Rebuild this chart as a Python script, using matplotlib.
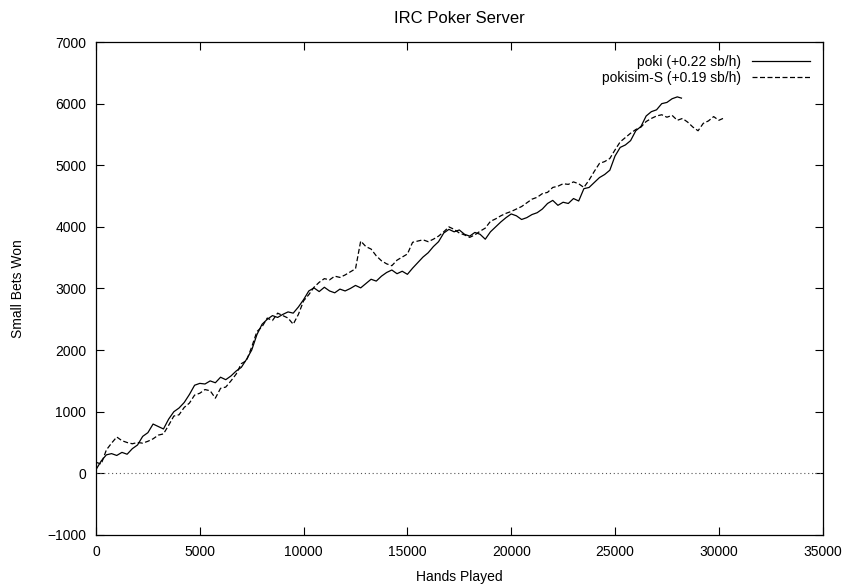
import matplotlib
matplotlib.use("Agg")
import matplotlib.pyplot as plt

plt.rcParams["font.family"] = ["Liberation Sans", "DejaVu Sans"]
plt.rcParams["font.size"] = 10

# poki (solid line), hands played vs small bets won
poki_hands = list(range(0, 28001, 250)) + [28200]
poki_won = [
    60, 200, 300, 320, 290, 340, 310, 400, 460, 600, 660, 800, 760, 720, 880, 1000,
    1060, 1150, 1280, 1430, 1460, 1450, 1500, 1470, 1560, 1520, 1580, 1660, 1720, 1850,
    2000, 2250, 2420, 2500, 2560, 2530, 2580, 2620, 2600, 2700, 2820, 2960, 3010, 2950,
    3020, 2960, 2930, 2990, 2960, 3000, 3050, 3010, 3080, 3150, 3120, 3200, 3260, 3300,
    3240, 3280, 3230, 3330, 3420, 3510, 3580, 3680, 3760, 3900, 3960, 3920, 3950, 3880,
    3850, 3910, 3880, 3800, 3920, 4000, 4080, 4150, 4210, 4180, 4120, 4150, 4200, 4230,
    4290, 4380, 4430, 4350, 4400, 4380, 4460, 4420, 4620, 4640, 4720, 4800, 4850, 4920,
    5150, 5290, 5330, 5400, 5560, 5630, 5800, 5870, 5900, 6000, 6020, 6080, 6110, 6090,
]

# pokisim-S (dashed line)
sim_hands = list(range(0, 30001, 250)) + [30200]
sim_won = [
    180, 150, 380, 490, 590, 530, 500, 480, 500, 490, 520, 560, 620, 640, 780, 930,
    950, 1070, 1140, 1270, 1300, 1360, 1340, 1220, 1380, 1400, 1500, 1610, 1780, 1830,
    2050, 2300, 2380, 2520, 2480, 2600, 2560, 2520, 2420, 2580, 2800, 2900, 3020, 3100,
    3160, 3140, 3200, 3180, 3220, 3270, 3320, 3770, 3680, 3640, 3530, 3450, 3400, 3370,
    3460, 3510, 3560, 3750, 3770, 3790, 3760, 3800, 3850, 3920, 4000, 3960, 3900, 3870,
    3830, 3870, 3930, 3980, 4090, 4130, 4180, 4220, 4250, 4290, 4330, 4390, 4450, 4480,
    4540, 4560, 4640, 4660, 4700, 4690, 4730, 4700, 4640, 4760, 4900, 5030, 5060, 5110,
    5250, 5380, 5450, 5520, 5580, 5620, 5710, 5760, 5800, 5820, 5780, 5810, 5730, 5760,
    5700, 5620, 5560, 5680, 5720, 5790, 5730, 5760,
]

labels = ["poki (+0.22 sb/h)", "pokisim-S (+0.19 sb/h)"]
xticks = list(range(0, 35001, 5000))
yticks = list(range(-1000, 7001, 1000))

fig = plt.figure(figsize=(8.42, 5.84), dpi=100)
ax = fig.add_axes([0.114, 0.084, 0.863, 0.844])

ax.axhline(0, color="#555555", lw=0.8, ls=(0, (1, 2.5)))
ax.plot(poki_hands, poki_won, color="black", lw=0.9, label=labels[0])
ax.plot(sim_hands, sim_won, color="black", lw=0.9, ls=(0, (4, 2)), label=labels[1])

ax.set_xlim(0, 35000)
ax.set_ylim(-1000, 7000)
ax.set_xticks(xticks)
ax.set_yticks(yticks)
ax.tick_params(direction="in", length=6, width=0.8, top=True, right=True, pad=7)
for s in ax.spines.values():
    s.set_linewidth(0.9)

ax.set_title("IRC Poker Server", pad=14)
ax.set_xlabel("Hands Played", labelpad=8)
ax.set_ylabel("Small Bets Won", labelpad=16)

leg = ax.legend(loc="upper right", frameon=False, markerfirst=False,
                handlelength=4.2, handletextpad=0.8, labelspacing=0.2,
                borderaxespad=0.5)

fig.savefig("out.png", dpi=100)
